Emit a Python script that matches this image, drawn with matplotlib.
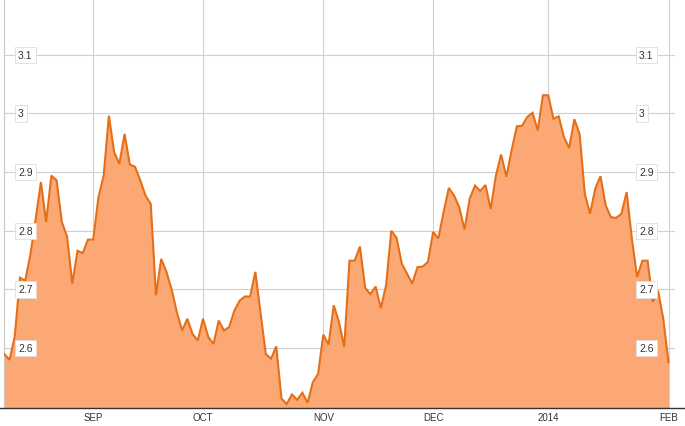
import numpy as np
import pandas as pd
import matplotlib
matplotlib.use("Agg")
import matplotlib.pyplot as plt
from matplotlib.lines import Line2D
from matplotlib.transforms import blended_transform_factory

plt.rcParams['font.family'] = ['Liberation Sans', 'DejaVu Sans']

# weekdays from 2013-08-08 to 2014-02-03
dates = pd.bdate_range('2013-08-08', '2014-02-03')

aug = [2.59, 2.58, 2.62, 2.72, 2.715, 2.76, 2.82, 2.883, 2.815, 2.894, 2.886, 2.815,
       2.79, 2.71, 2.766, 2.762, 2.785]
sep = [2.785, 2.857, 2.894, 2.996, 2.934, 2.914, 2.965, 2.913, 2.909, 2.886, 2.86,
       2.846, 2.69, 2.752, 2.73, 2.70, 2.661, 2.63, 2.65, 2.624, 2.613]
oct_ = [2.65, 2.619, 2.607, 2.647, 2.63, 2.636, 2.664, 2.681, 2.688, 2.688, 2.73,
        2.66, 2.59, 2.582, 2.603, 2.514, 2.505, 2.521, 2.512, 2.524, 2.507, 2.542, 2.556]
nov = [2.623, 2.606, 2.673, 2.644, 2.602, 2.749, 2.749, 2.773, 2.703, 2.692, 2.705,
       2.668, 2.707, 2.80, 2.788, 2.744, 2.727, 2.71, 2.738, 2.739, 2.747]
dec = [2.798, 2.787, 2.832, 2.873, 2.86, 2.84, 2.802, 2.855, 2.877, 2.868, 2.878,
       2.837, 2.894, 2.93, 2.892, 2.937, 2.978, 2.979, 2.994, 3.001, 2.971, 3.031]
jan = [3.031, 2.991, 2.995, 2.96, 2.941, 2.99, 2.965, 2.863, 2.829, 2.872, 2.893,
       2.843, 2.823, 2.822, 2.829, 2.866, 2.786, 2.721, 2.749, 2.749, 2.679, 2.698, 2.65]
feb = [2.576]

values = np.array(aug + sep + oct_ + nov + dec + jan + feb)

month_labels = ['SEP', 'OCT', 'NOV', 'DEC', '2014', 'FEB']
y_ticks = [2.6, 2.7, 2.8, 2.9, 3.0, 3.1]
y_tick_labels = ['2.6', '2.7', '2.8', '2.9', '3', '3.1']

W, H = 685, 427
fig = plt.figure(figsize=(W / 100, H / 100), dpi=100)
left_px, right_px, bottom_px = 4.3, 675.0, 409.0
ax = fig.add_axes([left_px / W, 1 - bottom_px / H, (right_px - left_px) / W, bottom_px / H])

x = np.arange(len(values))
ymin, ymax = 2.498, 3.195
ax.fill_between(x, values, ymin, color='#FBA874', lw=0, zorder=2)
ax.plot(x, values, color='#E56F18', lw=1.5, zorder=3, solid_joinstyle='miter')

step = (668.5 - left_px) / (len(values) - 1)
ax.set_xlim(0, (right_px - left_px) / step)
ax.set_ylim(ymin, ymax)

# month ticks: first index of each month from September on
months = dates.to_period('M')
tick_pos = [int(np.argmax(months == m)) for m in months.unique()[1:]]
ax.set_xticks(tick_pos)
ax.set_xticklabels(month_labels, fontsize=7, color='#333333')
ax.tick_params(axis='x', length=0, pad=3)
ax.set_yticks(y_ticks)
ax.set_yticklabels([])
ax.tick_params(axis='y', length=0)

ax.grid(True, color='#D0D0D0', lw=0.8, zorder=1)
ax.set_axisbelow(True)
for s in ['top', 'right', 'bottom']:
    ax.spines[s].set_visible(False)
ax.spines['left'].set_color('#C8C8C8')
ax.spines['left'].set_linewidth(0.8)

trans = blended_transform_factory(ax.transAxes, ax.transData)
lx = (18 - left_px) / (right_px - left_px)
rx = (639 - left_px) / (right_px - left_px)
for v, lab in zip(y_ticks, y_tick_labels):
    for xx in (lx, rx):
        ax.text(xx, v, lab, transform=trans, fontsize=7.5, color='#333333',
                ha='left', va='center', zorder=5,
                bbox=dict(boxstyle='square,pad=0.3', facecolor='white',
                          edgecolor='#DDDDDD', lw=0.6))

fig.add_artist(Line2D([0, 1], [1 - bottom_px / H] * 2, transform=fig.transFigure,
                      color='#333333', lw=1.0))

fig.savefig('out.png', dpi=100, facecolor='white')
